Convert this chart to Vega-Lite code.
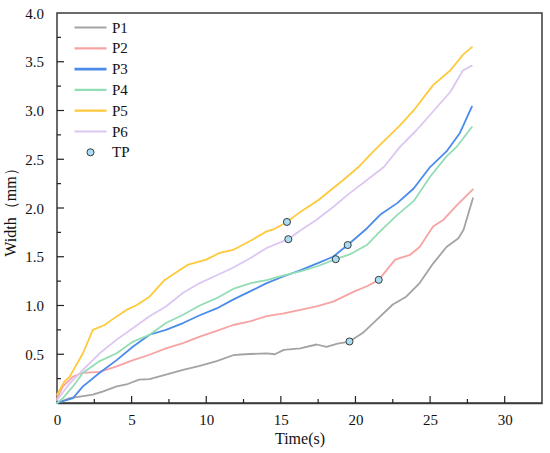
{
  "$schema": "https://vega.github.io/schema/vega-lite/v6.json",
  "description": "Width vs time for P1-P6 with transition points",
  "autosize": {"type": "none"},
  "padding": {"left": 57, "top": 13, "right": 8, "bottom": 50},
  "width": 485,
  "height": 390,
  "background": "white",
  "datasets": {
    "curves": [
      {"series": "P1", "t": 0, "w": 0},
      {"series": "P1", "t": 0.85, "w": 0.05},
      {"series": "P1", "t": 1.74, "w": 0.07},
      {"series": "P1", "t": 2.4, "w": 0.085},
      {"series": "P1", "t": 3.1, "w": 0.12},
      {"series": "P1", "t": 4.0, "w": 0.17},
      {"series": "P1", "t": 4.65, "w": 0.19},
      {"series": "P1", "t": 5.5, "w": 0.24},
      {"series": "P1", "t": 6.2, "w": 0.245},
      {"series": "P1", "t": 7.3, "w": 0.29},
      {"series": "P1", "t": 8.45, "w": 0.34},
      {"series": "P1", "t": 9.57, "w": 0.38},
      {"series": "P1", "t": 10.7, "w": 0.43},
      {"series": "P1", "t": 11.8, "w": 0.49},
      {"series": "P1", "t": 12.6, "w": 0.5},
      {"series": "P1", "t": 14.05, "w": 0.51},
      {"series": "P1", "t": 14.6, "w": 0.5},
      {"series": "P1", "t": 15.2, "w": 0.545},
      {"series": "P1", "t": 16.3, "w": 0.56},
      {"series": "P1", "t": 17.4, "w": 0.6},
      {"series": "P1", "t": 18.07, "w": 0.575},
      {"series": "P1", "t": 18.8, "w": 0.61},
      {"series": "P1", "t": 19.6, "w": 0.63},
      {"series": "P1", "t": 20.5, "w": 0.72},
      {"series": "P1", "t": 21.4, "w": 0.85},
      {"series": "P1", "t": 22.5, "w": 1.01},
      {"series": "P1", "t": 23.4, "w": 1.09},
      {"series": "P1", "t": 24.3, "w": 1.23},
      {"series": "P1", "t": 25.2, "w": 1.43},
      {"series": "P1", "t": 26.1, "w": 1.6},
      {"series": "P1", "t": 26.9, "w": 1.69},
      {"series": "P1", "t": 27.25, "w": 1.78},
      {"series": "P1", "t": 27.87, "w": 2.1},
      {"series": "P2", "t": 0, "w": 0.05},
      {"series": "P2", "t": 0.4, "w": 0.17},
      {"series": "P2", "t": 1.07, "w": 0.27},
      {"series": "P2", "t": 1.74, "w": 0.31},
      {"series": "P2", "t": 2.86, "w": 0.32},
      {"series": "P2", "t": 4.0, "w": 0.375},
      {"series": "P2", "t": 5.1, "w": 0.44},
      {"series": "P2", "t": 6.2, "w": 0.495},
      {"series": "P2", "t": 7.3, "w": 0.56},
      {"series": "P2", "t": 8.45, "w": 0.615},
      {"series": "P2", "t": 9.57, "w": 0.68},
      {"series": "P2", "t": 10.7, "w": 0.74},
      {"series": "P2", "t": 11.8, "w": 0.8},
      {"series": "P2", "t": 13.0, "w": 0.84},
      {"series": "P2", "t": 14.05, "w": 0.89},
      {"series": "P2", "t": 15.2, "w": 0.92},
      {"series": "P2", "t": 16.3, "w": 0.955},
      {"series": "P2", "t": 17.4, "w": 0.99},
      {"series": "P2", "t": 18.5, "w": 1.04},
      {"series": "P2", "t": 19.86, "w": 1.14},
      {"series": "P2", "t": 20.8, "w": 1.2},
      {"series": "P2", "t": 21.56, "w": 1.263},
      {"series": "P2", "t": 22.66, "w": 1.47},
      {"series": "P2", "t": 23.66, "w": 1.52},
      {"series": "P2", "t": 24.3, "w": 1.6},
      {"series": "P2", "t": 25.2, "w": 1.81},
      {"series": "P2", "t": 25.9, "w": 1.88},
      {"series": "P2", "t": 26.8, "w": 2.03},
      {"series": "P2", "t": 27.87, "w": 2.19},
      {"series": "P3", "t": 0, "w": 0},
      {"series": "P3", "t": 1.07, "w": 0.05},
      {"series": "P3", "t": 1.74, "w": 0.17},
      {"series": "P3", "t": 2.86, "w": 0.31},
      {"series": "P3", "t": 4.0, "w": 0.44},
      {"series": "P3", "t": 5.1, "w": 0.58},
      {"series": "P3", "t": 6.2, "w": 0.7},
      {"series": "P3", "t": 7.3, "w": 0.75},
      {"series": "P3", "t": 8.45, "w": 0.82},
      {"series": "P3", "t": 9.57, "w": 0.9},
      {"series": "P3", "t": 10.7, "w": 0.97},
      {"series": "P3", "t": 11.8, "w": 1.06},
      {"series": "P3", "t": 13.0, "w": 1.15},
      {"series": "P3", "t": 14.05, "w": 1.23},
      {"series": "P3", "t": 15.2, "w": 1.3},
      {"series": "P3", "t": 16.3, "w": 1.36},
      {"series": "P3", "t": 17.4, "w": 1.43},
      {"series": "P3", "t": 18.5, "w": 1.5},
      {"series": "P3", "t": 19.48, "w": 1.62},
      {"series": "P3", "t": 20.76, "w": 1.79},
      {"series": "P3", "t": 21.65, "w": 1.93},
      {"series": "P3", "t": 22.8, "w": 2.05},
      {"series": "P3", "t": 23.9, "w": 2.2},
      {"series": "P3", "t": 25.0, "w": 2.42},
      {"series": "P3", "t": 26.1, "w": 2.58},
      {"series": "P3", "t": 27.0, "w": 2.77},
      {"series": "P3", "t": 27.8, "w": 3.04},
      {"series": "P4", "t": 0, "w": 0},
      {"series": "P4", "t": 0.4, "w": 0.05},
      {"series": "P4", "t": 1.07, "w": 0.17},
      {"series": "P4", "t": 1.74, "w": 0.31},
      {"series": "P4", "t": 2.86, "w": 0.43},
      {"series": "P4", "t": 4.0, "w": 0.51},
      {"series": "P4", "t": 5.1, "w": 0.63},
      {"series": "P4", "t": 6.2, "w": 0.7},
      {"series": "P4", "t": 7.3, "w": 0.82},
      {"series": "P4", "t": 8.45, "w": 0.905},
      {"series": "P4", "t": 9.57, "w": 1.0},
      {"series": "P4", "t": 10.7, "w": 1.075},
      {"series": "P4", "t": 11.8, "w": 1.17},
      {"series": "P4", "t": 13.0, "w": 1.23},
      {"series": "P4", "t": 14.05, "w": 1.26},
      {"series": "P4", "t": 15.2, "w": 1.31},
      {"series": "P4", "t": 16.3, "w": 1.35},
      {"series": "P4", "t": 17.4, "w": 1.4},
      {"series": "P4", "t": 18.68, "w": 1.475},
      {"series": "P4", "t": 19.7, "w": 1.53},
      {"series": "P4", "t": 20.76, "w": 1.62},
      {"series": "P4", "t": 21.65, "w": 1.76},
      {"series": "P4", "t": 22.8, "w": 1.93},
      {"series": "P4", "t": 23.9, "w": 2.07},
      {"series": "P4", "t": 25.0, "w": 2.32},
      {"series": "P4", "t": 26.1, "w": 2.53},
      {"series": "P4", "t": 26.8, "w": 2.63},
      {"series": "P4", "t": 27.8, "w": 2.83},
      {"series": "P5", "t": 0, "w": 0.085},
      {"series": "P5", "t": 0.5, "w": 0.22},
      {"series": "P5", "t": 0.85, "w": 0.27},
      {"series": "P5", "t": 1.74, "w": 0.51},
      {"series": "P5", "t": 2.4, "w": 0.75},
      {"series": "P5", "t": 3.2, "w": 0.8},
      {"series": "P5", "t": 3.64, "w": 0.85},
      {"series": "P5", "t": 4.65, "w": 0.955},
      {"series": "P5", "t": 5.3, "w": 1.0},
      {"series": "P5", "t": 6.2, "w": 1.09},
      {"series": "P5", "t": 7.2, "w": 1.26},
      {"series": "P5", "t": 8.0, "w": 1.34},
      {"series": "P5", "t": 8.8, "w": 1.42},
      {"series": "P5", "t": 10.0, "w": 1.47},
      {"series": "P5", "t": 10.9, "w": 1.54},
      {"series": "P5", "t": 11.8, "w": 1.57},
      {"series": "P5", "t": 13.15, "w": 1.68},
      {"series": "P5", "t": 14.05, "w": 1.76},
      {"series": "P5", "t": 14.5, "w": 1.78},
      {"series": "P5", "t": 15.41, "w": 1.857},
      {"series": "P5", "t": 16.3, "w": 1.96},
      {"series": "P5", "t": 17.5, "w": 2.08},
      {"series": "P5", "t": 19.2, "w": 2.29},
      {"series": "P5", "t": 20.2, "w": 2.42},
      {"series": "P5", "t": 21.2, "w": 2.58},
      {"series": "P5", "t": 23.0, "w": 2.85},
      {"series": "P5", "t": 24.0, "w": 3.02},
      {"series": "P5", "t": 25.2, "w": 3.26},
      {"series": "P5", "t": 26.35, "w": 3.41},
      {"series": "P5", "t": 27.2, "w": 3.57},
      {"series": "P5", "t": 27.8, "w": 3.65},
      {"series": "P6", "t": 0, "w": 0.03},
      {"series": "P6", "t": 0.85, "w": 0.2},
      {"series": "P6", "t": 1.74, "w": 0.34},
      {"series": "P6", "t": 2.86, "w": 0.51},
      {"series": "P6", "t": 4.0, "w": 0.65},
      {"series": "P6", "t": 5.1, "w": 0.77},
      {"series": "P6", "t": 6.2, "w": 0.89},
      {"series": "P6", "t": 7.3, "w": 0.99},
      {"series": "P6", "t": 8.45, "w": 1.13},
      {"series": "P6", "t": 9.57, "w": 1.23},
      {"series": "P6", "t": 10.7, "w": 1.31},
      {"series": "P6", "t": 11.7, "w": 1.38},
      {"series": "P6", "t": 13.0, "w": 1.49},
      {"series": "P6", "t": 14.05, "w": 1.59},
      {"series": "P6", "t": 15.5, "w": 1.68},
      {"series": "P6", "t": 16.3, "w": 1.77},
      {"series": "P6", "t": 17.4, "w": 1.88},
      {"series": "P6", "t": 18.5, "w": 2.01},
      {"series": "P6", "t": 19.6, "w": 2.15},
      {"series": "P6", "t": 20.8, "w": 2.29},
      {"series": "P6", "t": 21.9, "w": 2.42},
      {"series": "P6", "t": 23.0, "w": 2.63},
      {"series": "P6", "t": 24.1, "w": 2.8},
      {"series": "P6", "t": 25.2, "w": 2.99},
      {"series": "P6", "t": 26.35, "w": 3.19},
      {"series": "P6", "t": 27.2, "w": 3.41},
      {"series": "P6", "t": 27.8, "w": 3.46}
    ],
    "turning": [
      {"series": "P1", "t": 19.6, "w": 0.631},
      {"series": "P2", "t": 21.56, "w": 1.263},
      {"series": "P3", "t": 19.48, "w": 1.62},
      {"series": "P4", "t": 18.68, "w": 1.475},
      {"series": "P5", "t": 15.41, "w": 1.857},
      {"series": "P6", "t": 15.5, "w": 1.68}
    ],
    "xMajor": [{"tick": 5}, {"tick": 10}, {"tick": 15}, {"tick": 20}, {"tick": 25}, {"tick": 30}],
    "xMinor": [{"tick": 2.5}, {"tick": 7.5}, {"tick": 12.5}, {"tick": 17.5}, {"tick": 22.5}, {"tick": 27.5}],
    "yMajor": [{"tick": 0.5}, {"tick": 1}, {"tick": 1.5}, {"tick": 2}, {"tick": 2.5}, {"tick": 3}, {"tick": 3.5}],
    "yMinor": [{"tick": 0.25}, {"tick": 0.75}, {"tick": 1.25}, {"tick": 1.75}, {"tick": 2.25}, {"tick": 2.75}, {"tick": 3.25}, {"tick": 3.75}]
  },
  "layer": [
    {
      "data": {"name": "curves"},
      "mark": {"type": "line", "strokeCap": "round", "strokeJoin": "round"},
      "encoding": {
        "x": {
          "field": "t",
          "type": "quantitative",
          "title": "Time(s)",
          "scale": {"domain": [0, 32.5], "nice": false, "zero": false},
          "axis": {
            "values": [0, 5, 10, 15, 20, 25, 30],
            "format": "d",
            "tickSize": 5,
            "tickOpacity": 0,
            "labelPadding": 4,
            "titlePadding": 3
          }
        },
        "y": {
          "field": "w",
          "type": "quantitative",
          "title": "Width（mm）",
          "scale": {"domain": [0, 4], "nice": false},
          "axis": {
            "values": [0.5, 1, 1.5, 2, 2.5, 3, 3.5, 4],
            "format": ".1f",
            "tickSize": 7,
            "tickOpacity": 0,
            "offset": -7,
            "domain": false,
            "labelPadding": 13.5,
            "titlePadding": 6
          }
        },
        "color": {
          "field": "series",
          "type": "nominal",
          "scale": {
            "domain": ["P1", "P2", "P3", "P4", "P5", "P6", "TP"],
            "range": ["#A3A3A3", "#F7A3A3", "#4B8BEA", "#93DDB4", "#FFC93C", "#DCC6F2", "#3a3a3a"]
          },
          "legend": {
            "title": null,
            "orient": "none",
            "legendX": 26,
            "legendY": 7,
            "padding": 0,
            "symbolSize": 100,
            "symbolType": "M-3.2,0H3.2",
            "symbolStrokeWidth": 2.2,
            "labelOffset": 14,
            "rowPadding": 4.8,
            "labelFont": "Liberation Serif",
            "labelFontSize": 15,
            "labelColor": "#111",
            "encode": {
              "symbols": {
                "update": {
                  "shape": {"signal": "datum.value === 'TP' ? 'circle' : 'M-3.2,0H3.2'"},
                  "size": {"signal": "datum.value === 'TP' ? 50 : 100"},
                  "stroke": {"signal": "datum.value === 'TP' ? '#3a3a3a' : scale('color', datum.value)"},
                  "fill": {"signal": "datum.value === 'TP' ? '#A9DDF2' : 'transparent'"},
                  "strokeWidth": {"signal": "datum.value === 'TP' ? 1 : (datum.value === 'P3' ? 2.8 : 2.2)"}
                }
              }
            }
          }
        },
        "strokeWidth": {
          "field": "series",
          "type": "nominal",
          "scale": {
            "domain": ["P1", "P2", "P3", "P4", "P5", "P6"],
            "range": [1.8, 1.8, 2.4, 1.8, 1.8, 1.8]
          },
          "legend": null
        }
      }
    },
    {
      "data": {"name": "turning"},
      "mark": {
        "type": "point",
        "filled": true,
        "fill": "#A9DDF2",
        "stroke": "#3a3a3a",
        "strokeWidth": 1,
        "size": 50,
        "opacity": 1
      },
      "encoding": {
        "x": {"field": "t", "type": "quantitative", "title": "Time(s)"},
        "y": {"field": "w", "type": "quantitative", "title": "Width（mm）"}
      }
    },
    {
      "data": {"name": "xMajor"},
      "mark": {"type": "rule", "color": "#222", "strokeWidth": 1.2},
      "encoding": {
        "x": {"field": "tick", "type": "quantitative", "title": "Time(s)"},
        "y": {"datum": 0.072, "type": "quantitative", "title": "Width（mm）"},
        "y2": {"datum": 0}
      }
    },
    {
      "data": {"name": "xMinor"},
      "mark": {"type": "rule", "color": "#222", "strokeWidth": 1.2},
      "encoding": {
        "x": {"field": "tick", "type": "quantitative", "title": "Time(s)"},
        "y": {"datum": 0.041, "type": "quantitative", "title": "Width（mm）"},
        "y2": {"datum": 0}
      }
    },
    {
      "data": {"name": "yMajor"},
      "mark": {"type": "rule", "color": "#222", "strokeWidth": 1.2},
      "encoding": {
        "y": {"field": "tick", "type": "quantitative", "title": "Width（mm）"},
        "x": {"datum": 0, "type": "quantitative", "title": "Time(s)"},
        "x2": {"datum": 0.47}
      }
    },
    {
      "data": {"name": "yMinor"},
      "mark": {"type": "rule", "color": "#222", "strokeWidth": 1.2},
      "encoding": {
        "y": {"field": "tick", "type": "quantitative", "title": "Width（mm）"},
        "x": {"datum": 0, "type": "quantitative", "title": "Time(s)"},
        "x2": {"datum": 0.27}
      }
    }
  ],
  "config": {
    "font": "Liberation Serif",
    "view": {"stroke": "#3a3a3a", "strokeWidth": 1.5},
    "axis": {
      "grid": false,
      "domainColor": "#3a3a3a",
      "domainWidth": 1.5,
      "labelFont": "Liberation Serif",
      "labelFontSize": 15,
      "labelColor": "#111",
      "labelFlush": false,
      "labelOverlap": false,
      "titleFont": "Liberation Serif",
      "titleFontSize": 16,
      "titleFontWeight": "normal",
      "titleColor": "#111"
    }
  }
}
